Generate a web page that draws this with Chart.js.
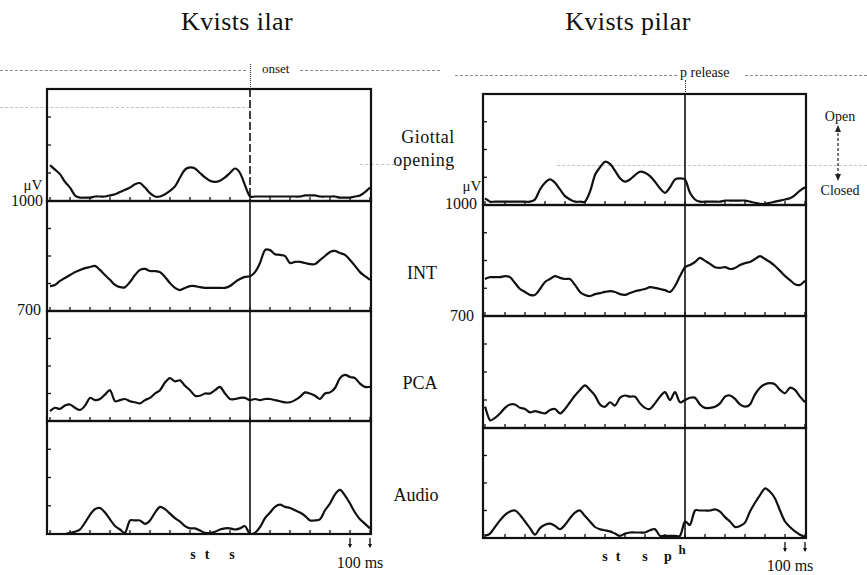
<!DOCTYPE html>
<html>
<head>
<meta charset="utf-8">
<script src="https://cdn.jsdelivr.net/npm/chart.js@4.4.1/dist/chart.umd.min.js"></script>
<style>
  body { margin: 0; width: 867px; height: 575px; background: #fff; position: relative; overflow: hidden;
         font-family: 'Liberation Serif', 'DejaVu Serif', serif; color: #111; }
  canvas { position: absolute; }
  .lbl { position: absolute; white-space: nowrap; transform: translate(-50%, -50%); line-height: 1; }
  .rt { position: absolute; white-space: nowrap; transform: translate(-100%, -50%); line-height: 1; }
  .lt { position: absolute; white-space: nowrap; transform: translate(0, -50%); line-height: 1; }
  .dash { position: absolute; height: 0; border-top: 1px dashed #8a8a8a; }
  .faint { border-top-color: #c4c4c4; }
  .vdot { position: absolute; width: 0; border-left: 1.5px dotted #333; }
</style>
</head>
<body>

<!-- titles -->
<div class="lbl" style="left:237px;top:22px;font-size:26px;letter-spacing:0.4px;">Kvists ilar</div>
<div class="lbl" style="left:628px;top:22px;font-size:26px;letter-spacing:0.4px;">Kvists pilar</div>

<!-- guide lines from the scan -->
<div class="dash" style="left:0;top:70px;width:246px;"></div>
<div class="dash" style="left:300px;top:70px;width:140px;"></div>
<div class="dash" style="left:455px;top:75px;width:222px;"></div>
<div class="dash" style="left:745px;top:75px;width:122px;"></div>
<div class="dash faint" style="left:0;top:107px;width:250px;"></div>
<div class="dash faint" style="left:360px;top:164px;width:40px;"></div>
<div class="dash faint" style="left:557px;top:165px;width:310px;"></div>
<div class="vdot" style="left:250px;top:64px;height:25px;"></div>
<div class="vdot" style="left:685px;top:80px;height:14px;"></div>
<div class="lt" style="left:262px;top:68px;font-size:13px;">onset</div>
<div class="lt" style="left:680px;top:73px;font-size:14px;">p release</div>

<!-- row labels -->
<div class="lbl" style="left:428px;top:137px;font-size:18px;letter-spacing:0.5px;">Giottal</div>
<div class="lbl" style="left:424px;top:160px;font-size:18px;letter-spacing:0.5px;">opening</div>
<div class="lbl" style="left:422px;top:273px;font-size:18px;">INT</div>
<div class="lbl" style="left:420px;top:383px;font-size:18px;">PCA</div>
<div class="lbl" style="left:416px;top:495px;font-size:18px;">Audio</div>

<div class="lbl" style="left:840px;top:117px;font-size:14px;">Open</div>
<div class="lbl" style="left:840px;top:191px;font-size:14px;">Closed</div>
<svg style="position:absolute;left:830px;top:124px;" width="16" height="60">
  <line x1="8" y1="4" x2="8" y2="54" stroke="#222" stroke-width="1.2" stroke-dasharray="3,2"/>
  <path d="M8 1 L5 8 L11 8 Z" fill="#222"/>
  <path d="M8 57 L5 50 L11 50 Z" fill="#222"/>
</svg>

<!-- y labels -->
<div class="lbl" style="left:33px;top:185px;font-size:15px;">μV</div>
<div class="rt" style="left:43px;top:201px;font-size:16px;">1000</div>
<div class="rt" style="left:41px;top:310px;font-size:16px;">700</div>
<div class="lbl" style="left:472px;top:186px;font-size:15px;">μV</div>
<div class="rt" style="left:477px;top:204px;font-size:16px;">1000</div>
<div class="rt" style="left:474px;top:316px;font-size:16px;">700</div>

<!-- bottom annotations -->
<div class="lbl" style="left:193px;top:555px;font-size:14px;font-weight:bold;">s</div>
<div class="lbl" style="left:207px;top:555px;font-size:14px;font-weight:bold;">t</div>
<div class="lbl" style="left:232px;top:555px;font-size:14px;font-weight:bold;">s</div>
<div class="lbl" style="left:360px;top:563px;font-size:16px;">100 ms</div>
<div class="lbl" style="left:605px;top:557px;font-size:14px;font-weight:bold;">s</div>
<div class="lbl" style="left:618px;top:557px;font-size:14px;font-weight:bold;">t</div>
<div class="lbl" style="left:645px;top:557px;font-size:14px;font-weight:bold;">s</div>
<div class="lbl" style="left:668px;top:557px;font-size:14px;font-weight:bold;">p</div>
<div class="lbl" style="left:682px;top:549px;font-size:13px;font-weight:bold;">h</div>
<div class="lbl" style="left:790px;top:566px;font-size:16px;">100 ms</div>

<script>
// sample times in ms relative to onset / release (one every 25 ms)
const TIME_MS = [-1000, -975, -950, -925, -900, -875, -850, -825, -800, -775, -750, -725, -700, -675, -650, -625,
  -600, -575, -550, -525, -500, -475, -450, -425, -400, -375, -350, -325, -300, -275, -250, -225,
  -200, -175, -150, -125, -100, -75, -50, -25, 0, 25, 50, 75, 100, 125, 150, 175,
  200, 225, 250, 275, 300, 325, 350, 375, 400, 425, 450, 475, 500, 525, 550, 575, 600];
const TICKS_MS = [-1000, -900, -800, -700, -600, -500, -400, -300, -200, -100, 0, 100, 200, 300, 400, 500, 600];
const SCALE_BAR_MS = [500, 600];

// Kvists ilar
const ilarGlottal = [32, 28, 24, 17, 12, 5, 3, 3, 3, 4, 4, 4, 5, 6, 8, 10, 12, 15, 16, 12,
  7, 4, 4, 6, 9, 13, 21, 28, 30, 29, 25, 21, 18, 17, 18, 21, 25, 29, 25, 14,
  4, 4, 4, 4, 4, 4, 4, 4, 4, 4, 4, 5, 5, 5, 4, 4, 4, 4, 3, 3, 3, 4, 5, 8, 12];
const ilarInt = [768, 771, 782, 790, 798, 806, 812, 817, 820, 823, 812, 798, 785, 771, 765, 765, 779, 798, 812, 815,
  809, 809, 806, 793, 776, 763, 757, 763, 768, 768, 765, 763, 763, 763, 763, 763, 768, 779, 787, 793,
  795, 806, 831, 866, 866, 855, 853, 850, 831, 834, 834, 831, 828, 828, 839, 850, 861, 864, 858, 853,
  839, 823, 806, 795, 785];
const ilarPca = [9, 12, 11, 14, 15, 12, 10, 14, 21, 19, 20, 24, 28, 18, 19, 20, 18, 17, 16, 19,
  21, 25, 28, 35, 39, 36, 37, 32, 28, 23, 23, 25, 25, 28, 31, 25, 20, 20, 21, 21,
  19, 20, 19, 20, 20, 19, 18, 17, 17, 19, 22, 26, 25, 23, 20, 25, 26, 30, 39, 42,
  40, 39, 34, 31, 31];
const ilarAudio = [0, 0, 0, 0, 1, 2, 4, 10, 17, 22, 23, 19, 13, 7, 4, 1, 12, 12, 12, 9,
  12, 19, 24, 22, 18, 14, 11, 7, 5, 5, 3, 1, 1, 2, 4, 5, 5, 4, 5, 7,
  0, 1, 6, 14, 19, 24, 26, 24, 23, 21, 19, 16, 12, 12, 13, 21, 27, 35, 39, 34,
  27, 19, 13, 9, 5];

// Kvists pilar
const pilarGlottal = [6, 3, 3, 3, 3, 3, 3, 3, 3, 3, 5, 14, 20, 23, 20, 14, 8, 5, 3, 3,
  3, 12, 27, 34, 39, 37, 31, 24, 21, 23, 27, 30, 29, 26, 21, 15, 11, 16, 23, 24,
  23, 11, 5, 3, 3, 3, 3, 3, 4, 4, 4, 4, 4, 3, 2, 1, 1, 2, 3, 4, 5, 6, 9, 13, 16];
const pilarInt = [800, 805, 805, 805, 808, 805, 789, 773, 765, 757, 757, 773, 792, 800, 808, 803, 800, 800, 784, 765,
  757, 754, 759, 762, 765, 767, 765, 759, 757, 762, 767, 770, 773, 778, 776, 773, 770, 765, 781, 808,
  832, 838, 846, 857, 849, 841, 832, 830, 832, 827, 830, 838, 843, 846, 854, 862, 854, 846, 835, 822,
  808, 797, 786, 784, 795];
const pilarPca = [19, 7, 9, 13, 18, 21, 21, 18, 17, 14, 15, 14, 13, 16, 17, 13, 17, 23, 29, 34,
  38, 34, 29, 21, 19, 23, 20, 27, 29, 28, 28, 22, 18, 17, 22, 28, 32, 25, 32, 23,
  25, 27, 27, 21, 18, 18, 19, 22, 28, 29, 26, 21, 19, 21, 30, 36, 39, 40, 39, 34,
  31, 36, 34, 28, 23];
const pilarAudio = [2, 4, 10, 16, 21, 24, 25, 21, 15, 9, 3, 9, 12, 13, 11, 8, 12, 18, 23, 25,
  20, 15, 10, 8, 7, 6, 4, 2, 4, 5, 5, 5, 5, 7, 8, 2, 2, 2, 2, 2,
  15, 12, 25, 25, 25, 25, 26, 24, 19, 15, 10, 11, 14, 24, 32, 39, 45, 42, 36, 25,
  15, 10, 6, 3, 1];

const INT_RANGE = [700, 1000];
const REL_RANGE = [0, 100];

const PAD = 4;
const columns = {
  ilar:  { left: 47,  right: 371, rows: [89, 201, 311, 421, 534], xMin: -1015, xMax: 605 },
  pilar: { left: 483, right: 806, rows: [94, 205, 316, 428, 538], xMin: -1010, xMax: 605 }
};

// frame, ticks and the onset/release line
const framePlugin = {
  id: 'frame',
  afterDatasetsDraw(chart, args, opts) {
    const { ctx, chartArea: a, scales: { x, y } } = chart;
    const seg = (x1, y1, x2, y2) => { ctx.beginPath(); ctx.moveTo(x1, y1); ctx.lineTo(x2, y2); ctx.stroke(); };
    ctx.save();
    ctx.strokeStyle = '#111';
    ctx.fillStyle = '#111';

    ctx.lineWidth = 1.6;
    if (opts.dashed) ctx.setLineDash([8, 3]);
    const mx = x.getPixelForValue(0);
    seg(mx, a.top, mx, a.bottom);
    ctx.setLineDash([]);

    ctx.lineWidth = 2.2;
    ctx.strokeRect(a.left, a.top, a.right - a.left, a.bottom - a.top);

    ctx.lineWidth = 1.3;
    TICKS_MS.forEach(t => {
      const px = x.getPixelForValue(t);
      seg(px, a.bottom, px, a.bottom - 4);
    });
    const step = (y.max - y.min) / 4;
    for (let k = 1; k < 4; k++) {
      const py = y.getPixelForValue(y.min + k * step);
      seg(a.left, py, a.left + 4, py);
    }

    if (opts.scaleBar) {
      SCALE_BAR_MS.forEach(t => {
        const px = x.getPixelForValue(t);
        seg(px, a.bottom + 4, px, a.bottom + 13);
        ctx.beginPath();
        ctx.moveTo(px - 2, a.bottom + 10);
        ctx.lineTo(px + 2, a.bottom + 10);
        ctx.lineTo(px, a.bottom + 14);
        ctx.fill();
      });
    }
    ctx.restore();
  }
};

function makePanel(colKey, row, values, range, extra) {
  const col = columns[colKey];
  const top = col.rows[row];
  const bottom = col.rows[row + 1];
  const extraBottom = extra.scaleBar ? 18 : 0;
  const canvas = document.createElement('canvas');
  canvas.width = col.right - col.left + PAD * 2;
  canvas.height = bottom - top + PAD * 2 + extraBottom;
  canvas.style.left = (col.left - PAD) + 'px';
  canvas.style.top = (top - PAD) + 'px';
  document.body.appendChild(canvas);

  new Chart(canvas.getContext('2d'), {
    type: 'line',
    data: {
      datasets: [{
        data: TIME_MS.map((t, i) => ({ x: t, y: values[i] })),
        borderColor: '#111',
        borderWidth: 2.2,
        pointRadius: 0,
        tension: 0.3,
        fill: false
      }]
    },
    options: {
      responsive: false,
      animation: false,
      events: [],
      layout: { padding: { left: PAD, right: PAD, top: PAD, bottom: PAD + extraBottom } },
      plugins: {
        legend: { display: false },
        tooltip: { enabled: false },
        frame: extra
      },
      scales: {
        x: { type: 'linear', min: col.xMin, max: col.xMax, display: false },
        y: { min: range[0], max: range[1], display: false }
      }
    },
    plugins: [framePlugin]
  });
}

makePanel('ilar', 0, ilarGlottal, REL_RANGE, { dashed: true });
makePanel('ilar', 1, ilarInt, INT_RANGE, {});
makePanel('ilar', 2, ilarPca, REL_RANGE, {});
makePanel('ilar', 3, ilarAudio, REL_RANGE, { scaleBar: true });

makePanel('pilar', 0, pilarGlottal, REL_RANGE, {});
makePanel('pilar', 1, pilarInt, INT_RANGE, {});
makePanel('pilar', 2, pilarPca, REL_RANGE, {});
makePanel('pilar', 3, pilarAudio, REL_RANGE, { scaleBar: true });
</script>
</body>
</html>
